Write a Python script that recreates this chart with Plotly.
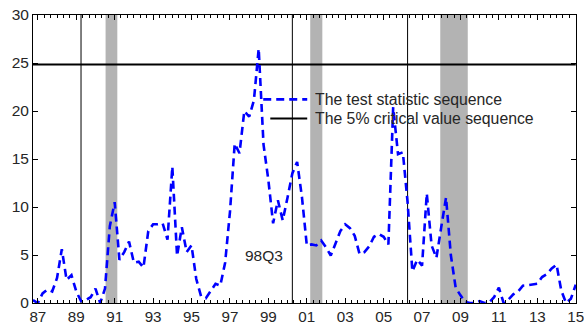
import pandas as pd
import plotly.graph_objects as go

# ---------------- data ----------------
quarters = pd.period_range("1986Q4", "2015Q1", freq="Q")
test_stat = [
    0.3,                      # 1986Q4
    0.0, 1.0, 1.4, 1.2,       # 1987
    2.6, 5.6, 2.4, 2.9,       # 1988
    1.2, 0.2, 0.3, 0.6,       # 1989
    1.5, 0.0, 1.5, 8.0,       # 1990
    10.5, 4.5, 5.3, 6.4,      # 1991
    4.2, 4.3, 3.7, 7.5,       # 1992
    8.2, 8.2, 8.3, 6.6,       # 1993
    14.2, 4.9, 7.9, 5.3,      # 1994
    6.0, 2.5, 0.7, 0.5,       # 1995
    1.3, 2.0, 1.8, 4.2,       # 1996
    9.5, 16.6, 15.6, 20.0,    # 1997
    19.4, 21.1, 26.5, 16.5,   # 1998
    12.8, 8.3, 10.7, 8.6,     # 1999
    11.0, 13.5, 14.7, 11.0,   # 2000
    6.0, 6.1, 6.0, 6.5,       # 2001
    5.8, 4.95, 6.2, 7.5,      # 2002
    8.2, 7.8, 7.0, 5.1,       # 2003
    5.3, 5.9, 6.9, 7.2,       # 2004
    6.9, 6.1, 20.4, 15.5,     # 2005
    15.7, 10.5, 3.3, 4.5,     # 2006
    3.9, 11.4, 6.0, 4.7,      # 2007
    7.9, 11.0, 5.0, 1.6,      # 2008
    0.8, 0.1, 0.0, 0.0,       # 2009
    0.2, 0.0, 0.05, 0.6,      # 2010
    1.6, 0.0, 0.35, 0.9,      # 2011
    1.2, 1.8, 1.85, 1.9,      # 2012
    2.0, 2.7, 3.0, 3.6,       # 2013
    4.0, 1.3, 0.0, 0.45,      # 2014
    1.9,                      # 2015Q1
]
critical_value = 24.85
break_dates = ["1989-04-01", "2000-04-01", "2006-04-01"]
recession_start = ["1990-07-12", "2001-03-07", "2007-12-13"]
recession_end = ["1991-02-20", "2001-10-23", "2009-05-19"]
peak_label = "98Q3"
peak_label_pos = ("1998-10-01", 5.0)
legend_labels = ["The test statistic sequence", "The 5% critical value sequence"]

dates = quarters.to_timestamp()
crit_seq = [critical_value] * len(dates)

FONT = "Liberation Sans, Arial, sans-serif"
TXT = "#262626"
DASH = "8px,5px"

fig = go.Figure()
fig.add_trace(go.Scatter(x=dates, y=crit_seq, mode="lines",
                         line=dict(color="black", width=2),
                         name=legend_labels[1], showlegend=False))
fig.add_trace(go.Scatter(x=dates, y=test_stat, mode="lines",
                         line=dict(color="#0000ff", width=2.6, dash=DASH),
                         name=legend_labels[0], showlegend=False))

shapes = []
for s, e in zip(recession_start, recession_end):
    shapes.append(dict(type="rect", xref="x", yref="paper", x0=s, x1=e, y0=0, y1=1,
                       fillcolor="#b3b3b3", line=dict(width=0), layer="below"))
for d in break_dates:
    shapes.append(dict(type="line", xref="x", yref="paper", x0=d, x1=d, y0=0, y1=1,
                       line=dict(color="black", width=1), layer="below"))

# manual legend (no box), paper coordinates
leg_x0, leg_x1, leg_tx = 0.437, 0.505, 0.516
leg_rows = [0.707, 0.641]
shapes.append(dict(type="line", xref="paper", yref="paper", x0=leg_x0 - 0.013, x1=leg_x1,
                   y0=leg_rows[0], y1=leg_rows[0],
                   line=dict(color="#0000ff", width=2.6, dash=DASH)))
shapes.append(dict(type="line", xref="paper", yref="paper", x0=leg_x0, x1=leg_x1,
                   y0=leg_rows[1], y1=leg_rows[1],
                   line=dict(color="black", width=2)))

annotations = []
for lab, yy in zip(legend_labels, leg_rows):
    annotations.append(dict(xref="paper", yref="paper", x=leg_tx, y=yy, text=lab,
                            showarrow=False, xanchor="left", yanchor="middle",
                            font=dict(family=FONT, size=15.8, color=TXT)))
annotations.append(dict(xref="x", yref="y", x=peak_label_pos[0], y=peak_label_pos[1],
                        text=peak_label, showarrow=False, xanchor="center", yanchor="middle",
                        font=dict(family=FONT, size=15.5, color=TXT)))

fig.update_layout(
    width=584, height=329,
    margin=dict(l=33, r=8, t=15, b=26),
    plot_bgcolor="white", paper_bgcolor="white",
    shapes=shapes, annotations=annotations,
    showlegend=False,
    font=dict(family=FONT, size=15, color=TXT),
)
fig.update_xaxes(
    type="date", range=["1986-10-01", "2015-01-06"], automargin=False,
    ticklabeloverflow="allow",
    tick0="1987-01-01", dtick="M24", tickformat="%y",
    ticks="inside", ticklen=5, tickcolor="black", tickwidth=1,
    showline=True, linecolor="black", linewidth=1, mirror="ticks",
    showgrid=False, zeroline=False,
    minor=dict(ticks="inside", ticklen=3, dtick="M4", tick0="1987-01-01",
               tickcolor="black", showgrid=False),
    tickfont=dict(family=FONT, size=15.2, color=TXT),
)
fig.update_yaxes(
    range=[0, 30], tick0=0, dtick=5, automargin=False,
    ticks="inside", ticklen=5, tickcolor="black", tickwidth=1,
    showline=True, linecolor="black", linewidth=1, mirror="ticks",
    showgrid=False, zeroline=False,
    tickfont=dict(family=FONT, size=15.5, color=TXT),
)

fig.write_html("out.html")
